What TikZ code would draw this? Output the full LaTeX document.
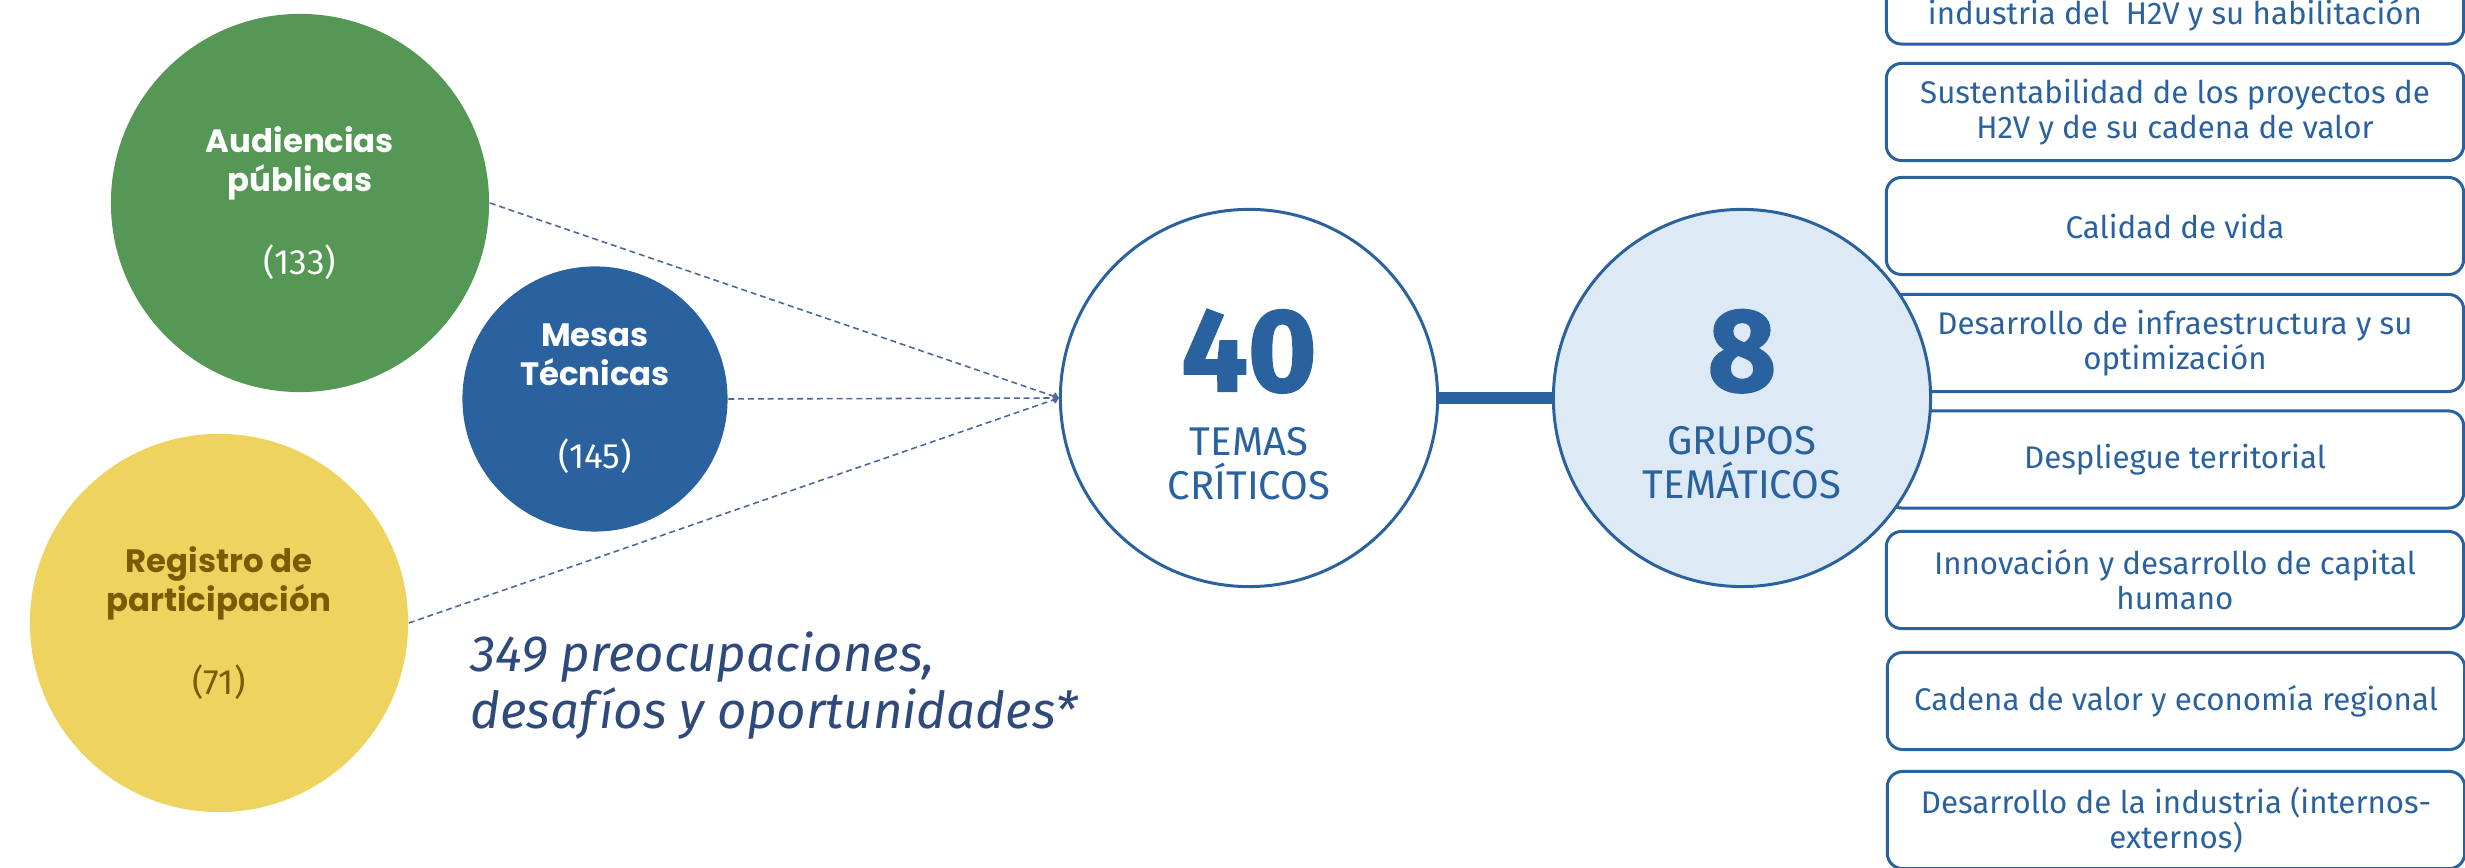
\documentclass[tikz,border=0pt]{standalone}
\usepackage{fontspec}
\setmainfont{Fira Sans}
\newfontfamily\popfont{Poppins}
\newfontfamily\grande{Fira Sans}[BoldFeatures={FakeBold=1.6}]
\usetikzlibrary{arrows.meta}

\definecolor{verde}{HTML}{559755}
\definecolor{azul}{HTML}{2A62A0}
\definecolor{amarillo}{HTML}{EFD35F}
\definecolor{ocre}{HTML}{7A5B00}
\definecolor{celeste}{HTML}{DDEAF6}
\definecolor{marino}{HTML}{2E4A7D}
\definecolor{guion}{HTML}{4B679B}

\newcommand\cifra[1]{{\normalfont\fontsize{10}{11}\selectfont #1}}

\tikzset{
  fuente/.style={circle, inner sep=0pt, align=center,
    font=\popfont\bfseries\fontsize{9.2}{11}\selectfont},
  resumen/.style={circle, draw=azul, line width=0.85pt, minimum size=3.77cm},
  rotulo/.style={align=center, text=azul, inner sep=0pt,
    font=\fontsize{11.4}{12.5}\selectfont},
  grupo/.style={draw=azul, line width=0.85pt, rounded corners=4.3pt,
    minimum width=5.77cm, minimum height=0.97cm, inner sep=0pt,
    align=center, text=azul, font=\fontsize{8.9}{10}\selectfont},
  flujo/.style={guion, line width=0.45pt, dash pattern=on 1.7pt off 1.1pt,
    -{Straight Barb[length=1.2pt,width=2pt]}},
}

\begin{document}
\begin{tikzpicture}[x=0.01cm,y=-0.01cm]
  \useasboundingbox (0,0) rectangle (2465,868);

  \node[grupo] (g1) at (2175,-4.5) {\strut\\industria del~ H2V y su habilitación};
  \node[grupo] (g2) at (2175,112)  {Sustentabilidad de los proyectos de\\H2V y de su cadena de valor};
  \node[grupo] (g3) at (2175,226)  {Calidad de vida};
  \node[grupo] (g4) at (2175,343)  {Desarrollo de infraestructura y su\\optimización};
  \node[grupo] (g5) at (2175,459.5){Despliegue territorial};
  \node[grupo] (g6) at (2175,580)  {Innovación y desarrollo de capital\\humano};
  \node[grupo] (g7) at (2176,701)  {Cadena de valor y economía regional};
  \node[grupo] (g8) at (2176,820)  {Desarrollo de la industria (internos-\\externos)};

  \node[resumen, fill=celeste] (gt) at (1742,398) {};
  \node[resumen, fill=white]   (tc) at (1249,398) {};
  \draw [azul, line width=3.4pt] (tc.east) -- (gt.west);

  \node[fuente, fill=verde, text=white, minimum size=3.78cm] (aud) at (300,203)
    {Audiencias\\públicas\\[12.6pt]\cifra{(133)}};
  \node[fuente, fill=azul, text=white, minimum size=2.65cm] (mes) at (595,399)
    {Mesas\\Técnicas\\[12.6pt]\cifra{(145)}};
  \node[fuente, fill=amarillo, text=ocre, minimum size=3.78cm] (reg) at (219,623)
    {Registro de\\participación\\[12.6pt]\cifra{(71)}};

  \draw [flujo] (aud.east) -- (tc.west);
  \draw [flujo] (mes.east) -- (tc.west);
  \draw [flujo] (reg.east) -- (tc.west);

  \node[rotulo] (tct) at (1249,404.5)
    {{\grande\bfseries\fontsize{33.5}{12.5}\selectfont 40}\\[5.7pt]TEMAS\\CRÍTICOS};
  \node[rotulo] (gtt) at (1742,404.5)
    {{\grande\bfseries\fontsize{33.5}{12.5}\selectfont 8}\\[5.7pt]GRUPOS\\TEMÁTICOS};

  \node[anchor=north west, inner sep=0pt, align=left, text=marino,
    font=\itshape\fontsize{14.5}{16.2}\selectfont] (nota) at (470,631)
    {349 preocupaciones,\\desafíos y oportunidades*};
\end{tikzpicture}
\end{document}
